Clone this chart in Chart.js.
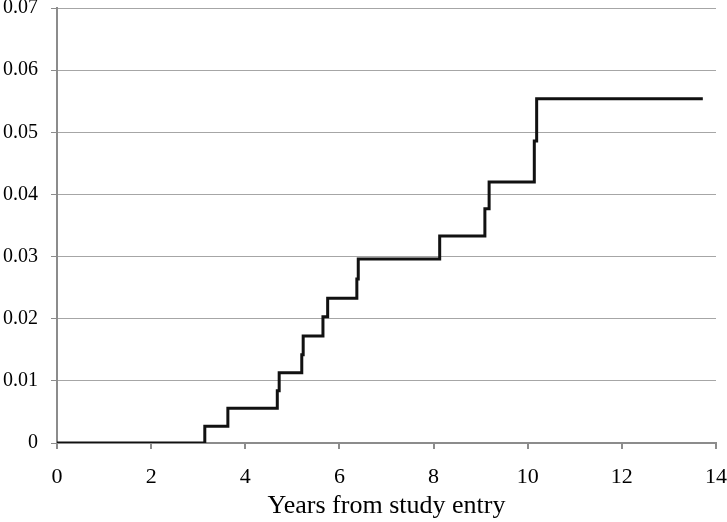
<!DOCTYPE html>
<html>
<head>
<meta charset="utf-8">
<script src="https://cdn.jsdelivr.net/npm/chart.js@4.4.1/dist/chart.umd.min.js"></script>
<style>
  body { margin: 0; background: #fff; }
</style>
</head>
<body>
<canvas id="grafico" width="727" height="522"></canvas>
<script>
// Tempos (anos) em que a curva sobe, e o valor a partir desse tempo
const anos = [0, 3.14, 3.63, 4.68, 4.72, 5.20, 5.23, 5.65, 5.75, 6.37, 6.40, 8.13, 9.09, 9.18, 10.14, 10.19, 13.72];
const incidencia = [0, 0.0027, 0.0056, 0.0084, 0.0113, 0.0142, 0.0172, 0.0203, 0.0233, 0.0264, 0.0296, 0.0333, 0.0377, 0.0420, 0.0486, 0.0554, 0.0554];
const tituloX = 'Years from study entry';

const pontos = anos.map((a, i) => ({ x: a, y: incidencia[i] }));
const fonte = { family: 'Liberation Serif', size: 20 };
const cinza = '#8c8c8c';

const config = {
    type: 'line',
    data: {
        datasets: [{
            data: pontos,
            stepped: true,
            borderColor: '#111',
            borderWidth: 3,
            pointRadius: 0,
            fill: false
        }]
    },
    options: {
        responsive: false,
        animation: false,
        layout: { padding: { top: 8, right: 11, left: 0, bottom: 0 } },
        plugins: { legend: { display: false }, tooltip: { enabled: false } },
        scales: {
            x: {
                type: 'linear',
                min: 0,
                max: 14,
                ticks: { stepSize: 2, color: '#000', font: { family: 'Liberation Serif', size: 22 }, padding: 15, maxRotation: 0 },
                grid: { drawOnChartArea: false, color: cinza, tickLength: 6, lineWidth: 2 },
                border: { color: cinza, width: 2 },
                title: { display: true, text: tituloX, color: '#000', font: { family: 'Liberation Serif', size: 26 }, padding: { top: 0, bottom: 0 } },
                afterFit: (s) => { s.height = 79; s.paddingRight = 0; s.paddingLeft = 0; }
            },
            y: {
                min: 0,
                max: 0.07,
                ticks: {
                    stepSize: 0.01,
                    color: '#000',
                    font: fonte,
                    padding: 13,
                    callback: (v) => v === 0 ? '0' : v.toFixed(2)
                },
                grid: { color: '#a6a6a6', lineWidth: 1, tickColor: cinza, tickLength: 6 },
                border: { color: cinza, width: 2 },
                afterFit: (s) => { s.width = 57; s.paddingTop = 0; s.paddingBottom = 0; }
            }
        }
    }
};

const ctx = document.getElementById('grafico').getContext('2d');
const chart = new Chart(ctx, config);
</script>
</body>
</html>
